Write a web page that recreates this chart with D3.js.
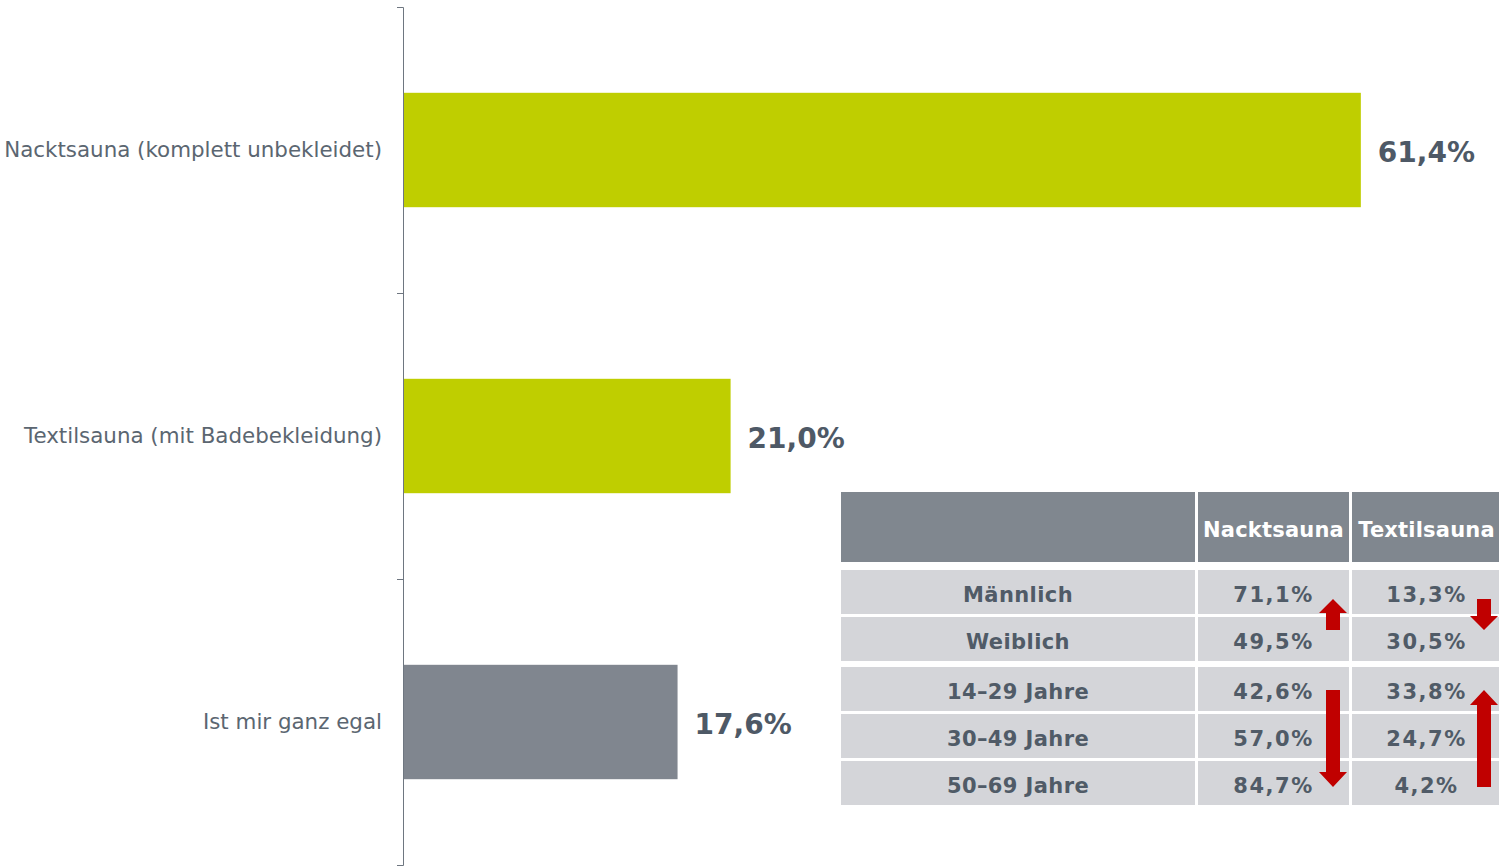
<!DOCTYPE html>
<html>
<head>
<meta charset="utf-8">
<script src="https://cdn.jsdelivr.net/npm/d3@7"></script>
<style>
  body { margin: 0; background: #fff; }
  svg { display: block; font-family: "DejaVu Sans", Verdana, sans-serif; }
</style>
</head>
<body>
<svg id="visualization"></svg>
<script>
// chart data
const categories = ['Nacktsauna (komplett unbekleidet)', 'Textilsauna (mit Badebekleidung)', 'Ist mir ganz egal'];
const shares = [61.4, 21.0, 17.6];
const barColors = ['#bfce00', '#bfce00', '#80868f'];

// table data
const tableHeader = ['', 'Nacktsauna', 'Textilsauna'];
const rowLabels = ['Männlich', 'Weiblich', '14–29 Jahre', '30–49 Jahre', '50–69 Jahre'];
const rowGroups = [0, 0, 1, 1, 1];
const nacktValues = ['71,1%', '49,5%', '42,6%', '57,0%', '84,7%'];
const textilValues = ['13,3%', '30,5%', '33,8%', '24,7%', '4,2%'];
// trend arrows: column, first row, last row, direction
const arrows = [
    { col: 1, from: 0, to: 1, dir: 'up' },
    { col: 2, from: 0, to: 1, dir: 'down' },
    { col: 1, from: 2, to: 4, dir: 'down' },
    { col: 2, from: 2, to: 4, dir: 'up' }
];

const width = 1499;
const height = 867;
const margin = { top: 7, right: 20, bottom: 2, left: 403 };

const svg = d3.select('#visualization')
    .attr('width', width)
    .attr('height', height);

const fmt = v => d3.format('.1f')(v).replace('.', ',') + '%';

// scales
const xScale = d3.scaleLinear()
    .domain([0, 70])
    .range([margin.left, margin.left + 70 * 15.6]);

const yScale = d3.scaleBand()
    .domain(categories)
    .range([margin.top, height - margin.bottom]);

// axis with ticks on the band borders
const edge = d3.scaleLinear()
    .domain([0, categories.length])
    .range([margin.top, height - margin.bottom]);

const axis = svg.append('g')
    .attr('transform', `translate(${margin.left}, 0)`)
    .call(d3.axisLeft(edge).tickValues(d3.range(categories.length + 1)).tickFormat('').tickSize(6).tickSizeOuter(6));
axis.selectAll('path, line').attr('stroke', '#6e7680');

// bars
const barH = yScale.bandwidth() * 0.4;
svg.selectAll('rect.bar')
    .data(categories)
    .join('rect')
    .attr('class', 'bar')
    .attr('x', xScale(0) + 1)
    .attr('y', d => yScale(d) + (yScale.bandwidth() - barH) / 2)
    .attr('width', (d, i) => xScale(shares[i]) - xScale(0) - 1)
    .attr('height', barH)
    .attr('fill', (d, i) => barColors[i]);

// category labels
svg.selectAll('text.cat')
    .data(categories)
    .join('text')
    .attr('class', 'cat')
    .attr('x', margin.left - 21)
    .attr('y', d => yScale(d) + yScale.bandwidth() / 2)
    .attr('dy', '0.35em')
    .attr('text-anchor', 'end')
    .attr('font-size', 21.4)
    .attr('fill', '#5b6671')
    .text(d => d);

// value labels
svg.selectAll('text.val')
    .data(categories)
    .join('text')
    .attr('class', 'val')
    .attr('x', (d, i) => xScale(shares[i]) + 17)
    .attr('y', d => yScale(d) + yScale.bandwidth() / 2 + 2)
    .attr('dy', '0.35em')
    .attr('font-size', 28)
    .attr('font-weight', 'bold')
    .attr('fill', '#4e5966')
    .text((d, i) => fmt(shares[i]));

// table
const colX = [841, 1198, 1352];
const colW = [354, 151, 149];
const headTop = 492, headH = 70;
const rowTop0 = 570, rowStep = 47, rowH = 44, groupGap = 3;
const rowTop = i => rowTop0 + i * rowStep + rowGroups[i] * groupGap;
const rowMid = i => rowTop(i) + rowH / 2;

const table = svg.append('g');

table.selectAll('rect.head')
    .data(tableHeader)
    .join('rect')
    .attr('class', 'head')
    .attr('x', (d, i) => colX[i])
    .attr('y', headTop)
    .attr('width', (d, i) => i === 2 ? colW[i] + 10 : colW[i])
    .attr('height', headH)
    .attr('fill', '#80878f');

table.selectAll('text.head')
    .data(tableHeader)
    .join('text')
    .attr('class', 'head')
    .attr('x', (d, i) => colX[i] + colW[i] / 2)
    .attr('y', headTop + headH / 2 + 3)
    .attr('dy', '0.35em')
    .attr('text-anchor', 'middle')
    .attr('font-size', 21)
    .attr('font-weight', 'bold')
    .attr('letter-spacing', 0.2)
    .attr('fill', '#fff')
    .text(d => d);

const cells = [];
rowLabels.forEach((lab, r) => {
    [lab, nacktValues[r], textilValues[r]].forEach((t, c) => cells.push({ r, c, t }));
});

table.selectAll('rect.cell')
    .data(cells)
    .join('rect')
    .attr('class', 'cell')
    .attr('x', d => colX[d.c])
    .attr('y', d => rowTop(d.r))
    .attr('width', d => d.c === 2 ? colW[d.c] + 10 : colW[d.c])
    .attr('height', rowH)
    .attr('fill', '#d4d5d9');

table.selectAll('text.cell')
    .data(cells)
    .join('text')
    .attr('class', 'cell')
    .attr('x', d => colX[d.c] + colW[d.c] / 2)
    .attr('y', d => rowMid(d.r) + 2.5)
    .attr('dy', '0.35em')
    .attr('text-anchor', 'middle')
    .attr('font-size', 21)
    .attr('font-weight', 'bold')
    .attr('letter-spacing', d => d.c === 0 ? 0.4 : 1.5)
    .attr('fill', '#505b67')
    .text(d => d.t);

// arrows
const arrowPath = a => {
    const cx = colX[a.col] + colW[a.col] - 17 + (a.col === 1 ? 1 : 0);
    const long = a.to - a.from > 1;
    const y1 = rowMid(a.from) + (long ? 1 : 7);
    const y2 = rowMid(a.to) + (long ? 4 : -9);
    const sw = 7, hw = 14, hl = long ? 15 : 14;
    if (a.dir === 'up') {
        return `M${cx},${y1} L${cx + hw},${y1 + hl} L${cx + sw},${y1 + hl} L${cx + sw},${y2} L${cx - sw},${y2} L${cx - sw},${y1 + hl} L${cx - hw},${y1 + hl} Z`;
    }
    return `M${cx},${y2} L${cx + hw},${y2 - hl} L${cx + sw},${y2 - hl} L${cx + sw},${y1} L${cx - sw},${y1} L${cx - sw},${y2 - hl} L${cx - hw},${y2 - hl} Z`;
};

table.selectAll('path.arrow')
    .data(arrows)
    .join('path')
    .attr('class', 'arrow')
    .attr('d', arrowPath)
    .attr('fill', '#c00000');
</script>
</body>
</html>
